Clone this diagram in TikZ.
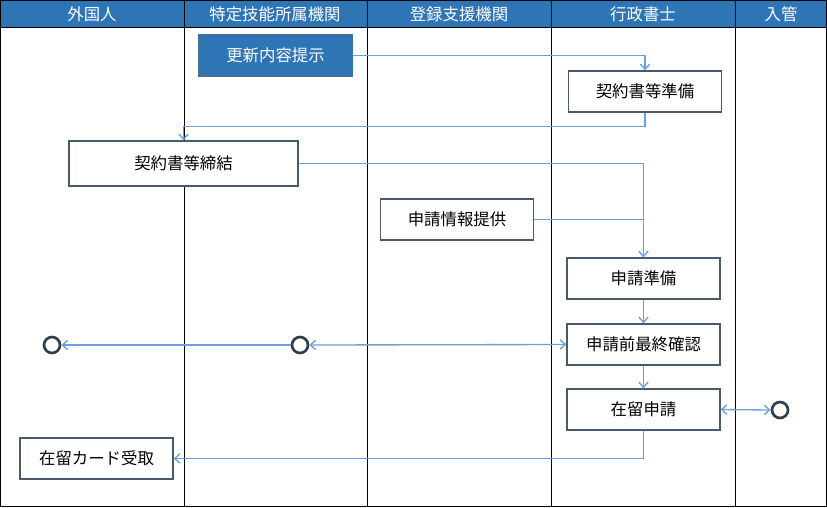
\documentclass[tikz,border=0pt]{standalone}
\usepackage{fontspec}
\setmainfont{Noto Sans CJK JP}
\usetikzlibrary{arrows.meta}
\definecolor{hdr}{HTML}{2E75B6}
\definecolor{hdrline}{HTML}{41719C}
\definecolor{boxc}{HTML}{4A5A6E}
\definecolor{conn}{HTML}{6CA0DC}
\definecolor{circc}{HTML}{2F3F50}
\begin{document}
\begin{tikzpicture}[x=0.75pt,y=-0.75pt,
  font=\fontsize{12.3}{14}\selectfont,
  stepbox/.style={draw=boxc, line width=0.9pt, fill=white, inner sep=0pt,
    minimum width=114.75pt, minimum height=30.75pt},
  hdrtext/.style={text=white, font=\fontsize{12.3}{14}\selectfont},
  endpt/.style={circle, draw=circc, line width=2pt, fill=white, inner sep=0pt, minimum size=12pt},
  conline/.style={draw=conn, line width=1pt},
  >={Straight Barb[length=4pt,width=7pt]}]
\useasboundingbox (0,0) rectangle (827,507);
% header
\fill[hdr] (0,0) rectangle (827,27);
\foreach \x in {184,367,551,735} \draw[black, line width=0.75pt] (\x,0) -- (\x,507);
\draw[black, line width=0.75pt] (0,27) -- (827,27);
\draw[black, line width=1pt] (0.5,0.5) rectangle (826.5,506.5);
\node[hdrtext] (h1) at (92,14) {外国人};
\node[hdrtext] (h2) at (275,14) {特定技能所属機関};
\node[hdrtext] (h3) at (459,14) {登録支援機関};
\node[hdrtext] (h4) at (643,14) {行政書士};
\node[hdrtext] (h5) at (781,14) {入管};
% boxes
\node[stepbox, fill=hdr, draw=hdrline, text=white] (upd) at (275.5,55.5) {更新内容提示};
\node[stepbox] (prep) at (645,91.5) {契約書等準備};
\node[stepbox, minimum width=171.75pt, minimum height=33.75pt] (sign) at (183.5,163.5) {契約書等締結};
\node[stepbox] (info) at (457,219.5) {申請情報提供};
\node[stepbox] (apprep) at (643.5,278.5) {申請準備};
\node[stepbox] (confirm) at (643.5,344.5) {申請前最終確認};
\node[stepbox] (apply) at (643.5,409.5) {在留申請};
\node[stepbox] (card) at (96.5,458.5) {在留カード受取};
% end points
\node[endpt] (c1) at (52,345) {};
\node[endpt] (c2) at (300,345) {};
\node[endpt] (c3) at (780,410) {};
% connectors
\draw[conline,->] (upd.east) -| (prep.north);
\draw[conline,->] (prep.south) -- ++(0,14) coordinate (p1) -| (sign.north);
\draw[conline,->] (sign.east) -| (apprep.north);
\coordinate (j1) at (info.east -| apprep.north);
\draw[conline] (info.east) -- (j1);
\draw[conline,->] (apprep.south) -- (confirm.north);
\draw[conline,<->] (c2.east) -- (confirm.west);
\draw[conline,->] (c2.west) -- (c1.east);
\draw[conline,->] (confirm.south) -- (apply.north);
\draw[conline,<->] (apply.east) -- (c3.west);
\draw[conline,->] (apply.south) |- (card.east);
\end{tikzpicture}
\end{document}
